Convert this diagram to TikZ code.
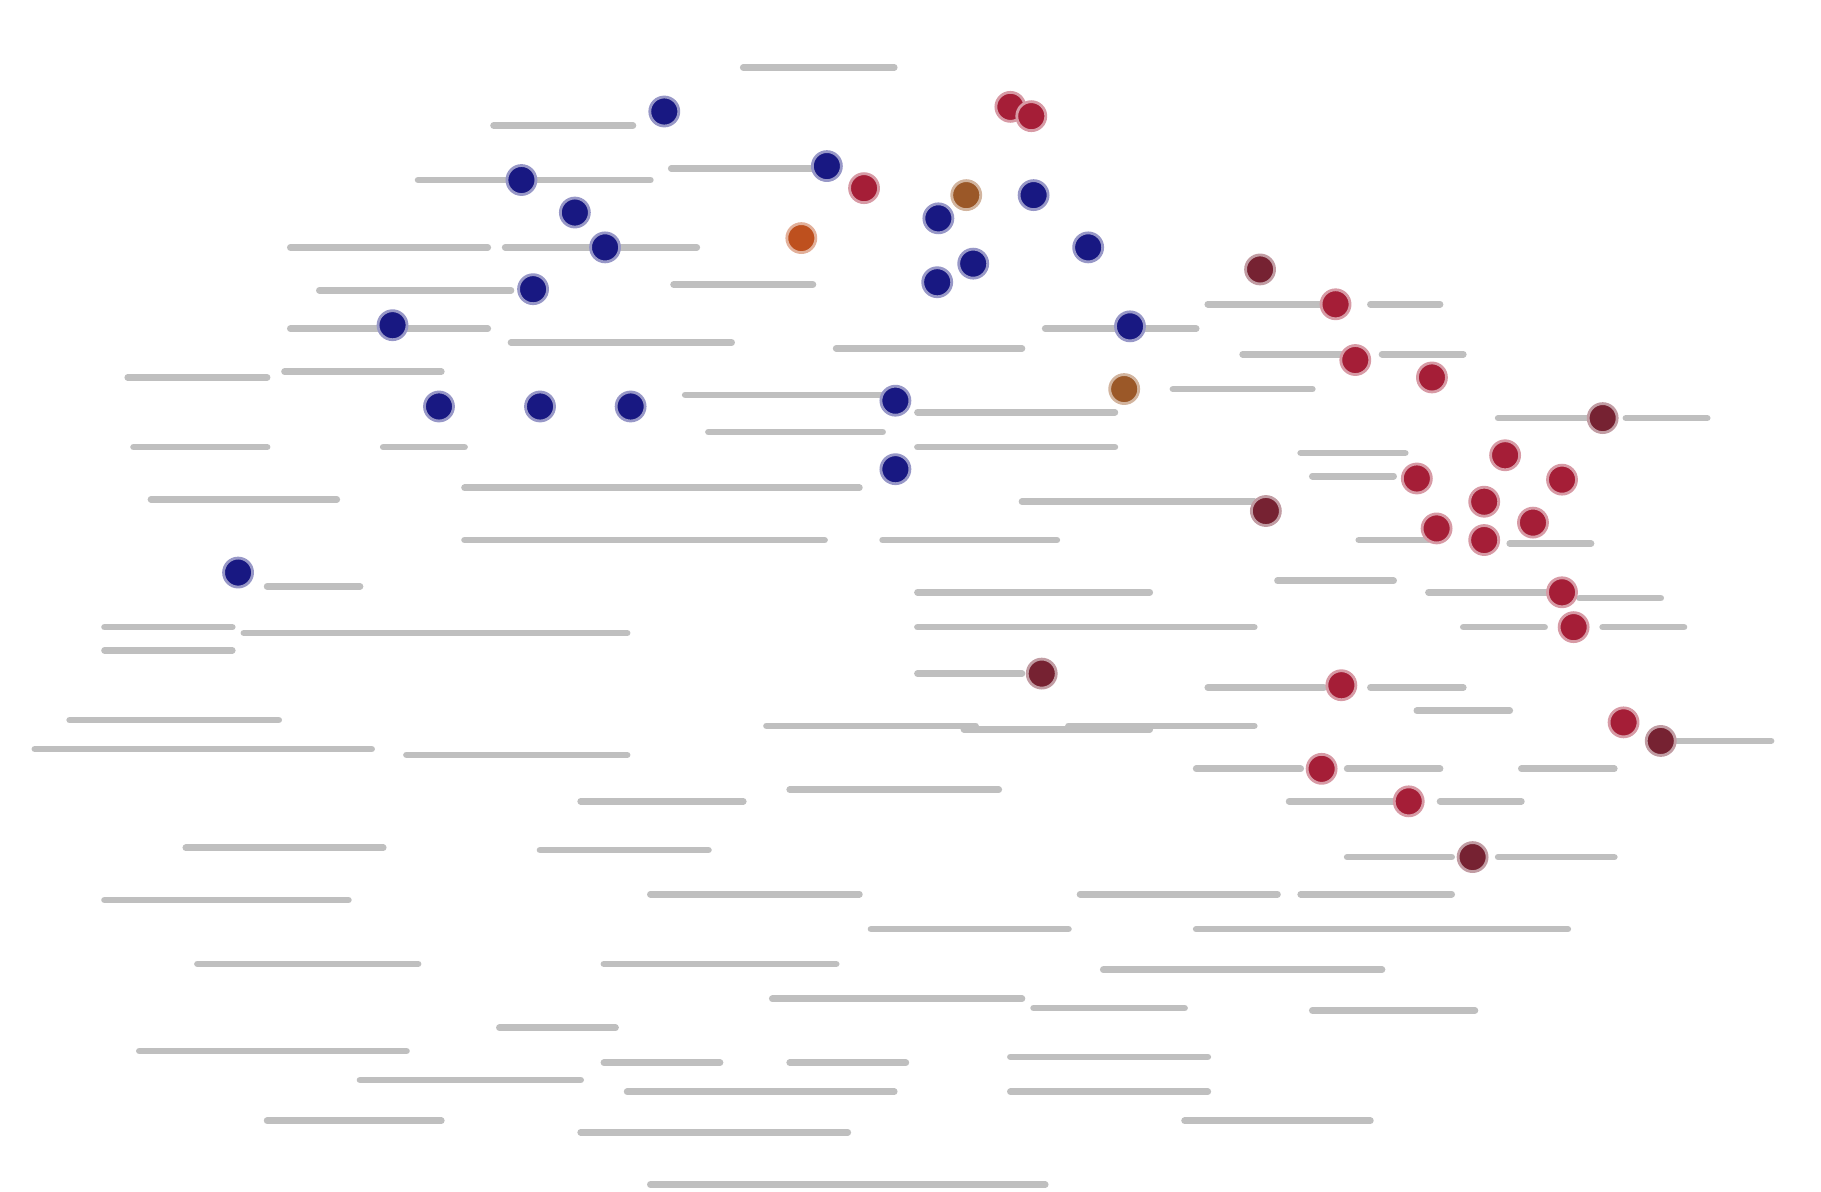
\documentclass[tikz,border=0pt]{standalone}
\usepackage{xcolor}

\definecolor{navy}{RGB}{24,24,130}
\definecolor{crimson}{RGB}{165,30,55}
\definecolor{maroon}{RGB}{118,34,50}
\definecolor{rust}{RGB}{190,80,30}
\definecolor{ochre}{RGB}{155,88,40}

\begin{document}
\begin{tikzpicture}[
	x=0.011614cm, y=-0.011614cm,
	dot/.style={circle, inner sep=0pt, minimum size=0.29cm, draw=#1!45, line width=0.8pt, fill=#1},
	blurb/.style={draw=gray!50, line width=1.9pt, line cap=round}
	]

		\useasboundingbox (0,0) rectangle (1568,1026);

		% Labels (unreadable in the reference, kept as grey strokes)
		\foreach \xa/\xb/\yy in {
			640/770/58, 425/545/108, 360/440/155, 458/560/155, 578/700/145,
			250/420/213, 435/600/213, 275/440/250, 580/700/245,
			250/330/283, 350/420/283, 440/630/295, 110/230/325, 245/380/320,
			115/230/385, 330/400/385, 720/880/300, 900/960/283, 985/1030/283,
			590/760/340, 790/960/355, 610/760/372, 790/960/385, 400/740/420,
			880/1080/432, 130/290/430, 400/710/465, 760/910/465, 230/310/505,
			90/200/540, 90/200/560, 210/540/545, 790/990/510, 790/1080/540,
			1100/1200/500, 1230/1340/510, 1360/1430/515, 1120/1210/390, 1130/1200/410,
			1040/1140/262, 1180/1240/262, 1070/1160/305, 1190/1260/305, 1010/1130/335,
			1290/1370/360, 1400/1470/360, 1170/1230/465, 1300/1370/468,
			1260/1330/540, 1380/1450/540, 790/880/580, 1040/1140/592, 1180/1260/592,
			1220/1300/612, 1440/1525/638, 1310/1390/662, 1030/1120/662, 1160/1240/662,
			1110/1200/690, 1240/1310/690, 1160/1250/738, 1290/1390/738,
			920/1080/625, 660/840/625, 830/990/628, 60/240/620, 30/320/645, 350/540/650,
			500/640/690, 680/860/680, 160/330/730, 465/610/732, 90/300/775, 560/740/770,
			930/1100/770, 1120/1250/770, 750/920/800, 1030/1350/800, 170/360/830, 520/720/830,
			950/1190/835, 665/880/860, 890/1020/868, 1130/1270/870, 120/350/905, 430/530/885,
			520/620/915, 680/780/915, 310/500/930, 540/770/940, 870/1040/910, 870/1040/940,
			230/380/965, 1020/1180/965, 500/730/975, 560/900/1020}
			\draw[blurb] (\xa,\yy) -- (\xb,\yy);

		% Nodes
		\foreach \px/\py [count=\i] in {
			572/96, 449/155, 495/183, 521/213, 459/249, 338/280, 378/350, 465/350,
			543/350, 712/143, 808/188, 890/168, 937/213, 838/227, 807/243, 973/281,
			771/345, 771/404, 205/493}
			\node[dot=navy] (b\i) at (\px,\py) {};

		\foreach \px/\py/\col [count=\i] in {
			870/92/crimson, 888/100/crimson, 744/162/crimson, 832/168/ochre,
			690/205/rust, 968/335/ochre, 1085/232/maroon, 1150/262/crimson,
			1167/310/crimson, 1233/325/crimson, 1380/360/maroon, 1296/392/crimson,
			1220/412/crimson, 1345/413/crimson, 1278/432/crimson, 1237/455/crimson,
			1320/450/crimson, 1278/465/crimson, 1090/440/maroon, 1345/510/crimson,
			1355/540/crimson, 897/580/maroon, 1155/590/crimson, 1398/622/crimson,
			1430/638/maroon, 1138/662/crimson, 1213/690/crimson, 1268/738/maroon}
			\node[dot=\col] (r\i) at (\px,\py) {};
	\end{tikzpicture}
\end{document}
